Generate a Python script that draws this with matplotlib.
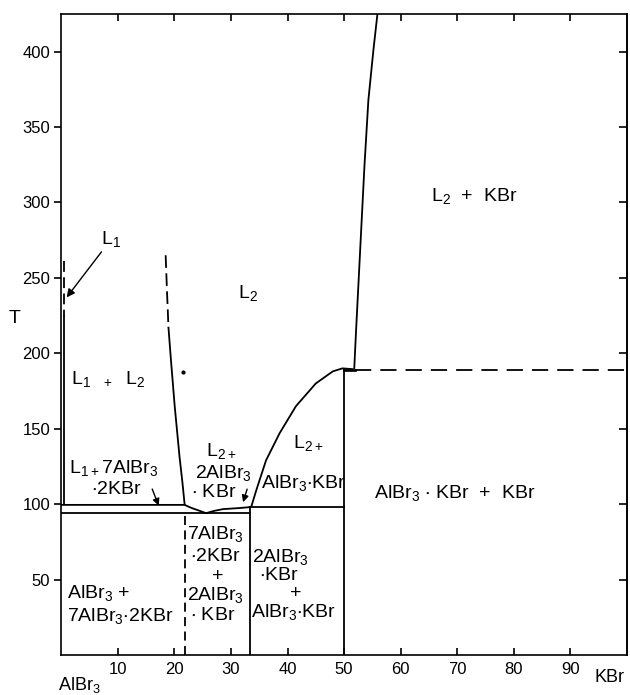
import matplotlib.pyplot as plt

plt.rcParams['font.family'] = ['Liberation Sans', 'DejaVu Sans']
plt.rcParams['mathtext.fontset'] = 'custom'
plt.rcParams['mathtext.rm'] = 'Liberation Sans'
plt.rcParams['mathtext.default'] = 'regular'

# mol % KBr  vs  T
# upper boundary of L1 (near pure AlBr3)
l1_x = [0.5, 0.5, 0.5]
l1_t = [261, 225, 100]

# L1/L2 miscibility boundary (dashed top, solid below)
mis_x_dash = [18.45, 18.7, 18.95]
mis_t_dash = [265, 240, 217]
mis_x = [18.95, 19.4, 20.05, 20.9, 21.4, 21.8]
mis_t = [217, 195, 165, 131.6, 115, 100]

# monotectic line and liquidus down to eutectic and up to 2AlBr3.KBr
liq_x = [0, 21.8, 23, 24.5, 25.6, 27, 28.6, 31.5, 33.3]
liq_t = [99.5, 99.5, 97.5, 95.5, 94, 95.5, 96.7, 97.4, 98]

# peritectic horizontal (2AlBr3.KBr) and eutectic horizontal
per_x = [33.3, 50]
per_t = [98, 98]
eut_x = [0, 33.3]
eut_t = [94, 94]

# liquidus of AlBr3.KBr
liq2_x = [33.3, 33.6, 34.5, 36.2, 38.6, 41.5, 45, 48, 49.7, 51.5]
liq2_t = [98, 98.4, 109.5, 129, 147, 165, 180, 188, 190, 189.5]

# liquidus of KBr
liq3_x = [51.8, 52.1, 52.4, 53.0, 53.6, 54.3, 55.2, 55.9]
liq3_t = [190, 213.5, 235.6, 279.8, 324, 368, 401.5, 425]

# compound lines
comp1_x = 21.8   # 7AlBr3.2KBr
comp1_t = 94
comp2_x = 33.3   # 2AlBr3.KBr
comp2_t = 98
comp3_x = 50     # AlBr3.KBr
comp3_t = 189.5
peri_t = 189     # dashed line to KBr

dot_x, dot_t = 21.5, 187.6

xticks = [10, 20, 30, 40, 50, 60, 70, 80, 90]
yticks = [50, 100, 150, 200, 250, 300, 350, 400]

fig = plt.figure(figsize=(6.3, 6.95), dpi=100)
ax = fig.add_axes([0.0973, 0.0576, 0.8977, 0.9224])

lw = 1.3
k = 'black'
ax.plot(l1_x[:2], l1_t[:2], color=k, lw=lw, dashes=(6, 3))
ax.plot(l1_x[1:], l1_t[1:], color=k, lw=lw)
ax.plot(mis_x_dash, mis_t_dash, color=k, lw=lw, dashes=(7, 3))
ax.plot(mis_x, mis_t, color=k, lw=lw)
ax.plot(liq_x, liq_t, color=k, lw=lw)
ax.plot(per_x, per_t, color=k, lw=lw)
ax.plot(eut_x, eut_t, color=k, lw=lw)
ax.plot(liq2_x, liq2_t, color=k, lw=lw)
ax.plot(liq3_x, liq3_t, color=k, lw=lw)
ax.plot([comp1_x, comp1_x], [0, comp1_t], color=k, lw=lw, dashes=(5, 3))
ax.plot([comp2_x, comp2_x], [0, comp2_t], color=k, lw=lw)
ax.plot([comp3_x, comp3_x], [0, comp3_t], color=k, lw=lw)
ax.plot([comp3_x, 52], [peri_t, peri_t], color=k, lw=lw * 1.5)
ax.plot([52, 100], [peri_t, peri_t], color=k, lw=lw, dashes=(9, 5))
ax.plot([dot_x], [dot_t], 'o', color=k, ms=2)

ax.set_xlim(0, 100)
ax.set_ylim(0, 425)
ax.set_xticks(xticks)
ax.set_yticks(yticks)
ax.tick_params(axis='x', direction='in', top=True, length=5, width=1.2, pad=5, labelsize=12)
ax.tick_params(axis='y', direction='out', length=5, width=1.2, pad=3, labelsize=12)
for s in ax.spines.values():
    s.set_linewidth(1.2)

# right-hand ticks point inward
sec = ax.secondary_yaxis('right')
sec.set_yticks(yticks)
sec.tick_params(axis='y', direction='in', length=6, width=1.2, labelright=False)
sec.spines['right'].set_linewidth(1.2)

fs = 14
txt = dict(fontsize=fs, ha='center', va='center')
ax.text(-8.3, 223, 'T', fontsize=14, ha='center', va='center')
ax.text(3.2, -20, 'AlBr$_3$', fontsize=13, ha='center', va='center', clip_on=False)
ax.text(99.5, -15, 'KBr', fontsize=13, ha='right', va='center', clip_on=False)

ax.annotate('', xy=(0.65, 235.6), xytext=(7.4, 268.7),
            arrowprops=dict(arrowstyle='-|>', color=k, lw=1, mutation_scale=12))
ax.text(8.8, 276, 'L$_1$', **txt)
ax.text(33, 240, 'L$_2$', **txt)
ax.text(73, 304, 'L$_2$  +  KBr', **txt)
ax.text(8.3, 183, 'L$_1$  $_+$  L$_2$', **txt)
ax.text(9.3, 124, 'L$_{1+}$7AlBr$_3$', **txt)
ax.text(9.8, 109.5, '$\\cdot$2KBr', **txt)
ax.annotate('', xy=(17.4, 97.3), xytext=(15.9, 111.7),
            arrowprops=dict(arrowstyle='-|>', color=k, lw=1, mutation_scale=10))
ax.text(28.3, 135, 'L$_{2+}$', **txt)
ax.text(28.6, 120.6, '2AlBr$_3$', **txt)
ax.text(27.0, 107.4, '$\\cdot$ KBr', **txt)
ax.annotate('', xy=(32.0, 99.5), xytext=(33.0, 111.7),
            arrowprops=dict(arrowstyle='-|>', color=k, lw=1, mutation_scale=10))
ax.text(43.6, 140.4, 'L$_{2+}$', **txt)
ax.text(42.8, 114, 'AlBr$_3$$\\cdot$KBr', **txt)
ax.text(69.5, 107.3, 'AlBr$_3$ $\\cdot$ KBr  +  KBr', **txt)
ax.text(27.2, 80.3, '7AlBr$_3$', **txt)
ax.text(27.3, 65.2, '$\\cdot$2KBr', **txt)
ax.text(27.7, 52, '+', **txt)
ax.text(27.3, 39.8, '2AlBr$_3$', **txt)
ax.text(26.8, 25.9, '$\\cdot$ KBr', **txt)
ax.text(6.6, 41, 'AlBr$_3$ +', **txt)
ax.text(10.4, 26, '7AlBr$_3$$\\cdot$2KBr', **txt)
ax.text(38.8, 65.2, '2AlBr$_3$', **txt)
ax.text(38.4, 53, '$\\cdot$KBr', **txt)
ax.text(41.4, 41, '+', **txt)
ax.text(41.0, 28.7, 'AlBr$_3$$\\cdot$KBr', **txt)

fig.savefig('out.png', dpi=100)
